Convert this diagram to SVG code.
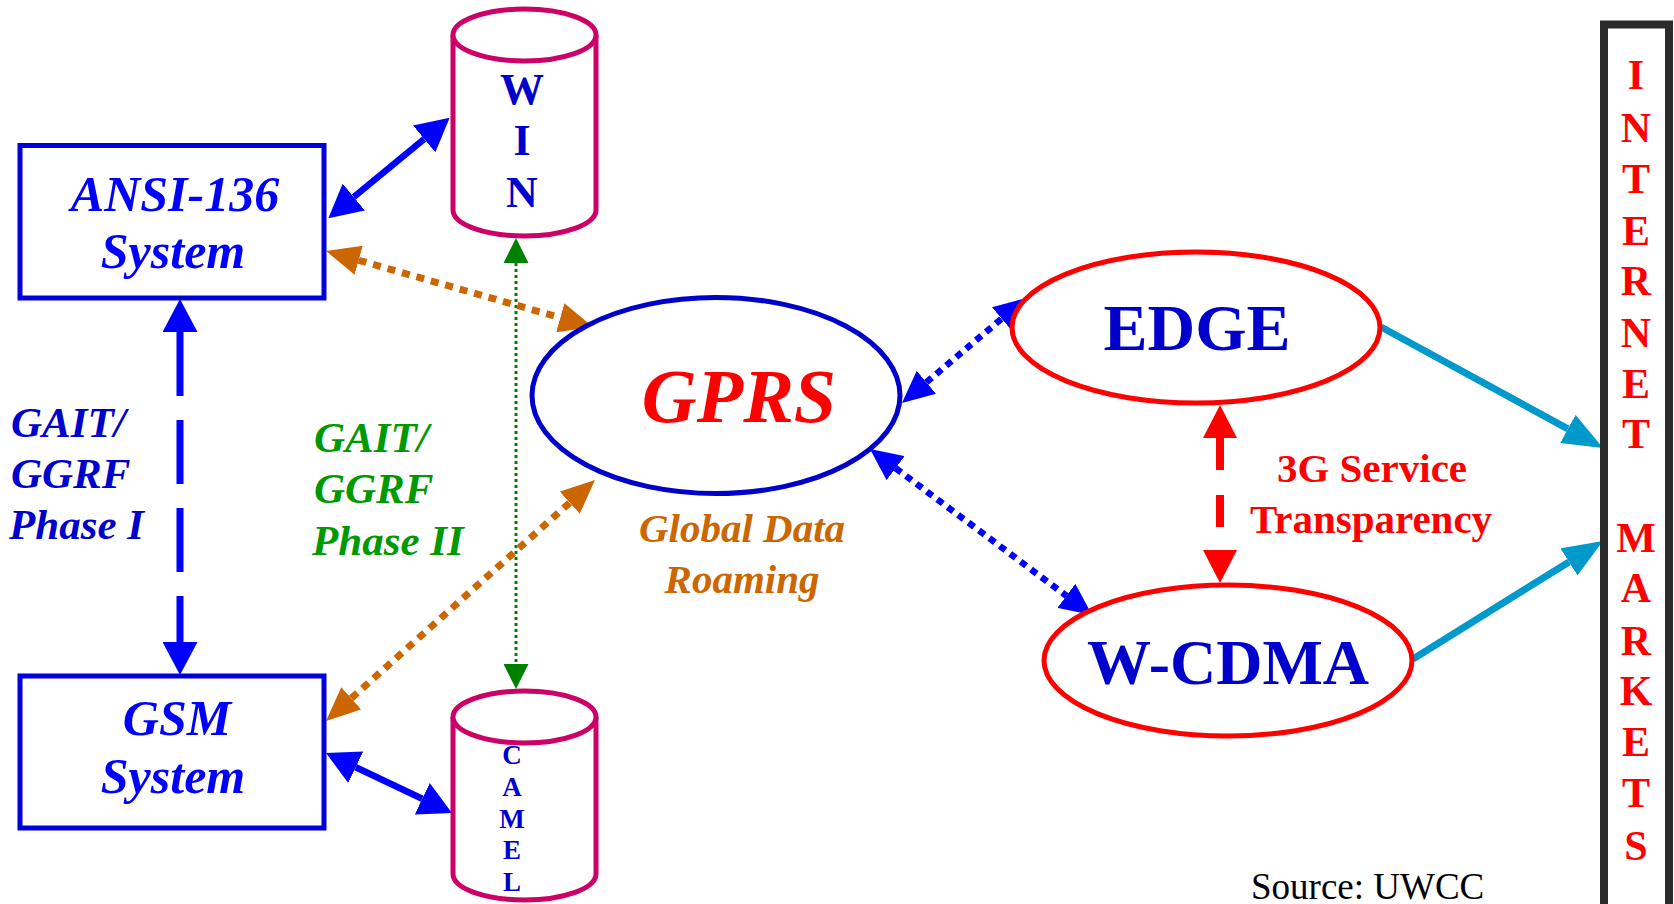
<svg xmlns="http://www.w3.org/2000/svg" width="1674" height="904" viewBox="0 0 1674 904">
<style>
.bi{font-family:"Liberation Serif","Times New Roman",serif;font-weight:bold;font-style:italic}
.b{font-family:"Liberation Serif","Times New Roman",serif;font-weight:bold}
.r{font-family:"Liberation Serif","Times New Roman",serif}
.box{fill:#fff;stroke:#0000DD;stroke-width:5}
.cyl{fill:#fff;stroke:#CC0066;stroke-width:5}
.mid{text-anchor:middle}
.net{font-size:42px;fill:#FF0000;text-anchor:middle}
</style>
<defs>
<marker id="hBlue" viewBox="0 0 33 35" refX="0" refY="17.5" markerWidth="33" markerHeight="35" markerUnits="userSpaceOnUse" orient="auto-start-reverse"><path d="M0,0 L33,17.5 L0,35 Z" fill="#0000FF"/></marker>
<marker id="hBlueDot" viewBox="0 0 32 30" refX="0" refY="15" markerWidth="32" markerHeight="30" markerUnits="userSpaceOnUse" orient="auto-start-reverse"><path d="M0,0 L32,15 L0,30 Z" fill="#0000FF"/></marker>
<marker id="hOrange" viewBox="0 0 34 30" refX="0" refY="15" markerWidth="34" markerHeight="30" markerUnits="userSpaceOnUse" orient="auto-start-reverse"><path d="M0,0 L34,15 L0,30 Z" fill="#CC6600"/></marker>
<marker id="hGreen" viewBox="0 0 25 25" refX="0" refY="12.5" markerWidth="25" markerHeight="25" markerUnits="userSpaceOnUse" orient="auto-start-reverse"><path d="M0,0 L25,12.5 L0,25 Z" fill="#008000"/></marker>
<marker id="hRed" viewBox="0 0 33 34" refX="0" refY="17" markerWidth="33" markerHeight="34" markerUnits="userSpaceOnUse" orient="auto-start-reverse"><path d="M0,0 L33,17 L0,34 Z" fill="#FF0000"/></marker>
<marker id="hCyan" viewBox="0 0 40 32" refX="0" refY="16" markerWidth="40" markerHeight="32" markerUnits="userSpaceOnUse" orient="auto-start-reverse"><path d="M0,0 L40,16 L0,32 Z" fill="#0099CC"/></marker>
</defs>
<rect width="1674" height="904" fill="#fff"/>

<g id="connectors" fill="none">
<path d="M353.8,197.1 L424.2,138.9" stroke="#0000FF" stroke-width="6.5" marker-start="url(#hBlue)" marker-end="url(#hBlue)"/>
<path d="M355.8,767.2 L422.2,798.8" stroke="#0000FF" stroke-width="6.5" marker-start="url(#hBlue)" marker-end="url(#hBlue)"/>
<path d="M180,332 L180,642" stroke="#0000FF" stroke-width="7" stroke-dasharray="64 24" marker-start="url(#hBlue)" marker-end="url(#hBlue)"/>
<path d="M516,263 L516,664" stroke="#008000" stroke-width="3" stroke-dasharray="3 3" marker-start="url(#hGreen)" marker-end="url(#hGreen)"/>
<path d="M358.7,260.3 L560.3,317.7" stroke="#CC6600" stroke-width="7" stroke-dasharray="8 7" marker-start="url(#hOrange)" marker-end="url(#hOrange)"/>
<path d="M351.3,698.3 L569.7,502.7" stroke="#CC6600" stroke-width="7" stroke-dasharray="8 7" marker-start="url(#hOrange)" marker-end="url(#hOrange)"/>
<path d="M926.4,382.3 L1001.6,318.7" stroke="#0000FF" stroke-width="6.5" stroke-dasharray="7 6" marker-start="url(#hBlueDot)" marker-end="url(#hBlueDot)"/>
<path d="M895.6,468.2 L1066.4,595.8" stroke="#0000FF" stroke-width="6.5" stroke-dasharray="7 6" marker-start="url(#hBlueDot)" marker-end="url(#hBlueDot)"/>
<path d="M1220,438 L1220,550" stroke="#FF0000" stroke-width="8" stroke-dasharray="32 25" marker-start="url(#hRed)" marker-end="url(#hRed)"/>
<path d="M1381,327 L1567.9,428.9" stroke="#0099CC" stroke-width="7" marker-end="url(#hCyan)"/>
<path d="M1413,659 L1569,562" stroke="#0099CC" stroke-width="7" marker-end="url(#hCyan)"/>
</g>

<g id="ansi136">
<rect class="box" x="20" y="145.5" width="304" height="152.5"/>
<text class="bi mid" x="175" y="211" font-size="50" fill="#0000FF">ANSI-136</text>
<text class="bi mid" x="173" y="268" font-size="50" fill="#0000FF">System</text>
</g>

<g id="gsm">
<rect class="box" x="20" y="676" width="304" height="152"/>
<text class="bi mid" x="177" y="735" font-size="50" fill="#0000FF">GSM</text>
<text class="bi mid" x="173" y="793" font-size="50" fill="#0000FF">System</text>
</g>

<g id="win">
<path class="cyl" d="M453,35 L453,210 A71.5,26 0 0 0 596,210 L596,35"/>
<ellipse class="cyl" cx="524.5" cy="35" rx="71.5" ry="26"/>
<text class="b mid" x="522" y="104" font-size="44" fill="#0000CC">W</text>
<text class="b mid" x="522" y="155" font-size="44" fill="#0000CC">I</text>
<text class="b mid" x="522" y="207" font-size="44" fill="#0000CC">N</text>
</g>

<g id="camel">
<path class="cyl" d="M453,717 L453,874 A71.5,26 0 0 0 596,874 L596,717"/>
<ellipse class="cyl" cx="524.5" cy="717" rx="71.5" ry="26"/>
<text class="b mid" x="512" y="764" font-size="27" fill="#0000CC">C</text>
<text class="b mid" x="512" y="796" font-size="27" fill="#0000CC">A</text>
<text class="b mid" x="512" y="828" font-size="27" fill="#0000CC">M</text>
<text class="b mid" x="512" y="859" font-size="27" fill="#0000CC">E</text>
<text class="b mid" x="512" y="891" font-size="27" fill="#0000CC">L</text>
</g>

<g id="gprs">
<ellipse cx="716" cy="395.5" rx="184" ry="98" fill="#fff" stroke="#0000CC" stroke-width="5"/>
<text class="bi mid" x="739" y="422" font-size="76" fill="#FF0000">GPRS</text>
</g>

<g id="global-data-roaming">
<text class="bi mid" x="742" y="542" font-size="41" fill="#CC6600">Global Data</text>
<text class="bi mid" x="742" y="593" font-size="41" fill="#CC6600">Roaming</text>
</g>

<g id="edge">
<ellipse cx="1196" cy="327.5" rx="184" ry="75.5" fill="#fff" stroke="#FF0000" stroke-width="5"/>
<text class="b mid" x="1197" y="350" font-size="66" fill="#0000CC">EDGE</text>
</g>

<g id="wcdma">
<ellipse cx="1228" cy="660.5" rx="184" ry="75.5" fill="#fff" stroke="#FF0000" stroke-width="5"/>
<text class="b mid" x="1228" y="684" font-size="64" fill="#0000CC">W-CDMA</text>
</g>

<g id="service-transparency">
<text class="b mid" x="1372" y="482" font-size="41" fill="#FF0000">3G Service</text>
<text class="b mid" x="1371" y="533" font-size="41" fill="#FF0000">Transparency</text>
</g>

<g id="gait-phase1">
<text class="bi" x="11" y="437" font-size="43" fill="#0000CC">GAIT/</text>
<text class="bi" x="11" y="488" font-size="43" fill="#0000CC">GGRF</text>
<text class="bi" x="9" y="539" font-size="43" fill="#0000CC">Phase I</text>
</g>

<g id="gait-phase2">
<text class="bi" x="314" y="452" font-size="43" fill="#009900">GAIT/</text>
<text class="bi" x="314" y="503" font-size="43" fill="#009900">GGRF</text>
<text class="bi" x="312" y="555" font-size="43" fill="#009900">Phase II</text>
</g>

<g id="internet-markets">
<rect x="1604" y="24.5" width="65" height="900" fill="#fff" stroke="#2B2B2B" stroke-width="8"/>
<text class="b net" x="1636" y="89">I</text>
<text class="b net" x="1636" y="142">N</text>
<text class="b net" x="1636" y="193">T</text>
<text class="b net" x="1636" y="245">E</text>
<text class="b net" x="1636" y="295">R</text>
<text class="b net" x="1636" y="347">N</text>
<text class="b net" x="1636" y="398">E</text>
<text class="b net" x="1636" y="448">T</text>
<text class="b net" x="1636" y="552">M</text>
<text class="b net" x="1636" y="602">A</text>
<text class="b net" x="1636" y="655">R</text>
<text class="b net" x="1636" y="705">K</text>
<text class="b net" x="1636" y="756">E</text>
<text class="b net" x="1636" y="807">T</text>
<text class="b net" x="1636" y="860">S</text>
</g>

<g id="source">
<text class="r" x="1251" y="899" font-size="37" fill="#000">Source: UWCC</text>
</g>
</svg>
